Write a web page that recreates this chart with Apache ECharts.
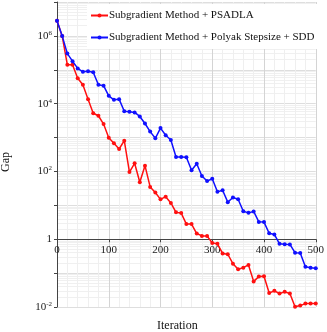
<!DOCTYPE html>
<html>
<head>
<meta charset="utf-8">
<script src="https://cdn.jsdelivr.net/npm/echarts@6/dist/echarts.min.js"></script>
<style>
  html, body { margin: 0; padding: 0; background: #fff; }
  #chart { width: 327px; height: 332px; }
</style>
</head>
<body>
<div id="chart"></div>
<script>
// iteration numbers (every 10 iterations)
var iterations = [];
for (var i = 0; i <= 500; i += 10) iterations.push(i);

// Subgradient Method + PSADLA
var psadla = [2.8e6, 1.0e6, 1.4e5, 1.4e5, 5.6e4, 3.6e4, 1.35e4, 5.2e3, 4.4e3, 2.5e3,
  980, 680, 460, 810, 96, 174, 48, 148, 35, 24,
  15, 18, 11.8, 6.2, 5.9, 2.8, 2.8, 1.47, 1.25, 1.25,
  0.78, 0.73, 0.38, 0.36, 0.19, 0.13, 0.145, 0.174, 0.057, 0.079,
  0.081, 0.026, 0.030, 0.025, 0.028, 0.025, 0.0102, 0.011, 0.0126, 0.0126, 0.0126];

// Subgradient Method + Polyak Stepsize + SDD
var polyak = [2.8e6, 1.0e6, 3.0e5, 1.8e5, 1.1e5, 8.7e4, 9.1e4, 8.5e4, 3.6e4, 3.4e4,
  1.7e4, 1.3e4, 1.36e4, 6.0e3, 5.8e3, 5.5e3, 4.2e3, 2.6e3, 1.5e3, 950,
  1.9e3, 1.17e3, 850, 268, 268, 262, 108, 168, 73, 52,
  61, 25, 28, 12.4, 17, 15.2, 6.7, 6.0, 6.6, 3.25,
  3.2, 1.5, 1.38, 0.73, 0.71, 0.70, 0.40, 0.39, 0.155, 0.145, 0.139];

var seriesNames = ['Subgradient Method + PSADLA', 'Subgradient Method + Polyak Stepsize + SDD'];

var serif = "'Liberation Serif', 'Times New Roman', serif";
var gridTop = 2, gridBottom = 25, chartH = 332;
var plotH = chartH - gridTop - gridBottom;
// x axis crosses the y axis at Gap = 1 (two decades above 10^-2, out of nine)
var xOffset = -plotH * 2 / 9;

// log minor grid lines (2..9 in each decade)
var minorLines = [];
for (var e = -2; e < 7; e++) {
  for (var k = 2; k <= 9; k++) minorLines.push({ yAxis: k * Math.pow(10, e) });
}

function pairs(vals) {
  return vals.map(function (v, i) { return [iterations[i], v]; });
}

var myChart = echarts.init(document.getElementById('chart'));
var option = {
  animation: false,
  textStyle: { fontFamily: serif },
  title: {
    text: 'Iteration',
    left: 157,
    top: 320,
    padding: 0,
    textStyle: { fontFamily: serif, fontSize: 12, fontWeight: 'normal', color: '#111' }
  },
  graphic: [{
    type: 'text',
    x: 6,
    y: 162,
    rotation: Math.PI / 2,
    style: {
      text: 'Gap',
      fontFamily: serif,
      fontSize: 12,
      fill: '#111',
      align: 'center',
      verticalAlign: 'middle'
    }
  }],
  grid: { left: 57, right: 8, top: gridTop, bottom: gridBottom },
  legend: {
    orient: 'vertical',
    left: 87,
    top: 4,
    backgroundColor: '#fff',
    padding: [6, 6, 6, 3],
    itemGap: 11,
    itemWidth: 17,
    itemHeight: 5,
    textStyle: { fontFamily: serif, fontSize: 11, color: '#111', padding: [0, 0, 0, -4] },
    data: seriesNames
  },
  xAxis: {
    type: 'value',
    min: 0,
    max: 500,
    interval: 100,
    offset: xOffset,
    axisLine: { lineStyle: { color: '#444', width: 1 } },
    axisTick: { show: true, length: 3, lineStyle: { color: '#444' } },
    axisLabel: { fontFamily: serif, fontSize: 11, color: '#222', margin: 5 },
    minorTick: { show: false, splitNumber: 5 },
    splitLine: { show: true, lineStyle: { color: '#d4d4d4' } },
    minorSplitLine: { show: true, lineStyle: { color: '#efefef' } }
  },
  yAxis: {
    type: 'log',
    logBase: 10,
    min: 0.01,
    max: 1e7,
    interval: 1,
    axisLine: { show: true, lineStyle: { color: '#444', width: 1 } },
    axisTick: { show: true, length: 3, lineStyle: { color: '#444' } },
    axisLabel: {
      margin: 5,
      color: '#222',
      formatter: function (v) {
        var p = Math.round(Math.log10(v));
        if (p % 2 !== 0) return '';
        if (p === 0) return '{b|1}';
        return '{b|10}{s|' + p + '}';
      },
      rich: {
        b: { fontFamily: serif, fontSize: 11, color: '#222' },
        s: { fontFamily: serif, fontSize: 7, color: '#222', verticalAlign: 'top', padding: [0, 0, 6, 0] }
      }
    },
    splitLine: { show: true, lineStyle: { color: '#dedede' } }
  },
  series: [
    {
      name: '_grid',
      type: 'line',
      data: [],
      silent: true,
      z: -1,
      markLine: {
        silent: true,
        z: -1,
        symbol: 'none',
        label: { show: false },
        lineStyle: { color: '#f0f0f0', type: 'solid', width: 1 },
        data: minorLines
      }
    },
    {
      name: seriesNames[0],
      type: 'line',
      data: pairs(psadla),
      symbol: 'circle',
      symbolSize: 4,
      color: '#ff1010',
      lineStyle: { width: 1.5 },
      z: 3
    },
    {
      name: seriesNames[1],
      type: 'line',
      data: pairs(polyak),
      symbol: 'circle',
      symbolSize: 4,
      color: '#1010ff',
      lineStyle: { width: 1.5 },
      z: 4
    }
  ]
};
myChart.setOption(option);
</script>
</body>
</html>
